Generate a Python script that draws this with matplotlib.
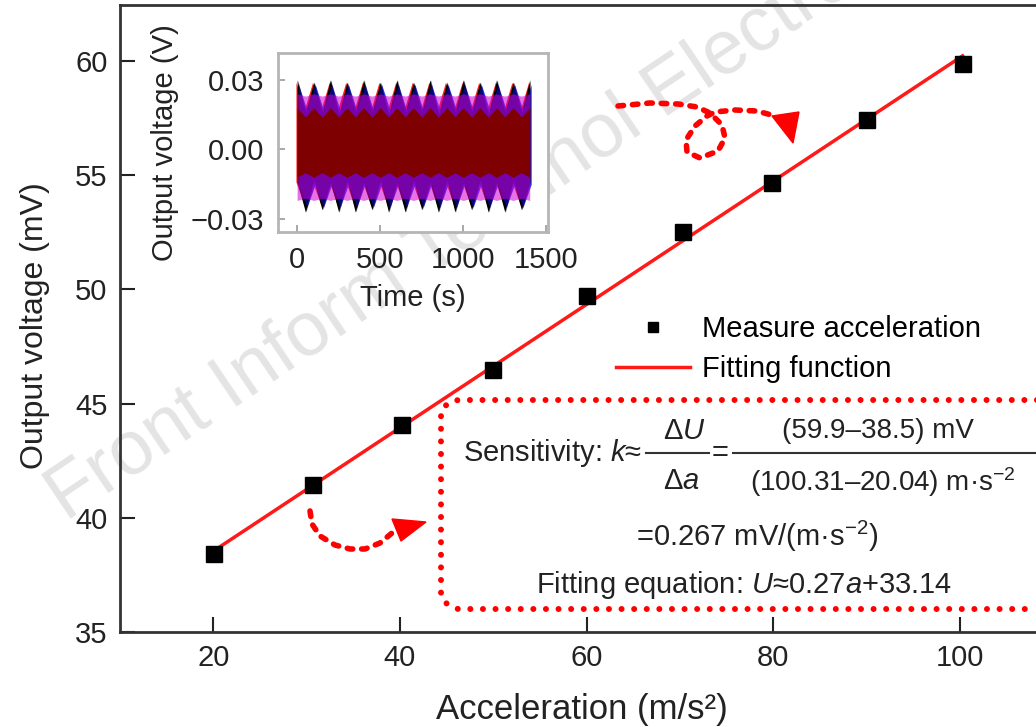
import matplotlib
matplotlib.use('Agg')
import matplotlib.pyplot as plt
from matplotlib.lines import Line2D
from matplotlib.patches import Polygon

plt.rcParams['font.family'] = ['Liberation Sans', 'DejaVu Sans']
plt.rcParams['mathtext.fontset'] = 'custom'
plt.rcParams['mathtext.rm'] = 'Liberation Sans'
plt.rcParams['mathtext.it'] = 'Liberation Sans:italic'

# main data: acceleration (m/s^2) vs output voltage (mV)
accel = [20.04, 30.7, 40.2, 50.0, 60.0, 70.3, 79.9, 90.1, 100.31]
volt = [38.4, 41.45, 44.05, 46.45, 49.7, 52.5, 54.65, 57.4, 59.85]
fit_slope, fit_icpt = 0.27, 33.14
fit_x = [20.04, 100.31]

x_ticks = [20, 40, 60, 80, 100]
y_ticks = [35, 40, 45, 50, 55, 60]

# inset: envelope of the time signal (V), sampled every 50 s
env_t = [0, 50, 100, 150, 200, 250, 300, 350, 400, 450, 500, 550, 600, 650, 700,
         750, 800, 850, 900, 950, 1000, 1050, 1100, 1150, 1200, 1250, 1300, 1350, 1400]
black_hi = [0.030, 0.016, 0.029, 0.016, 0.030, 0.015, 0.029, 0.016, 0.030, 0.016,
            0.029, 0.015, 0.030, 0.016, 0.029, 0.016, 0.030, 0.015, 0.029, 0.016,
            0.030, 0.016, 0.029, 0.015, 0.030, 0.016, 0.029, 0.016, 0.030]
black_lo = [-0.014, -0.027, -0.013, -0.026, -0.014, -0.027, -0.013, -0.027, -0.014, -0.026,
            -0.013, -0.027, -0.014, -0.027, -0.013, -0.026, -0.014, -0.027, -0.013, -0.027,
            -0.014, -0.026, -0.013, -0.027, -0.014, -0.027, -0.013, -0.026, -0.014]
blue_hi = [0.028, 0.017, 0.028, 0.017, 0.028, 0.017, 0.028, 0.017, 0.028, 0.017,
           0.028, 0.017, 0.028, 0.017, 0.028, 0.017, 0.028, 0.017, 0.028, 0.017,
           0.028, 0.017, 0.028, 0.017, 0.028, 0.017, 0.028, 0.017, 0.028]
blue_lo = [-0.015, -0.025, -0.015, -0.025, -0.015, -0.025, -0.015, -0.025, -0.015, -0.025,
           -0.015, -0.025, -0.015, -0.025, -0.015, -0.025, -0.015, -0.025, -0.015, -0.025,
           -0.015, -0.025, -0.015, -0.025, -0.015, -0.025, -0.015, -0.025, -0.015]
red_hi = [0.029, 0.017, 0.029, 0.017, 0.029, 0.017, 0.029, 0.017, 0.029, 0.017,
          0.029, 0.017, 0.029, 0.017, 0.029, 0.017, 0.029, 0.017, 0.029, 0.017,
          0.029, 0.017, 0.029, 0.017, 0.029, 0.017, 0.029, 0.017, 0.029]
red_lo = [-0.014, -0.024, -0.014, -0.024, -0.014, -0.024, -0.014, -0.024, -0.014, -0.024,
          -0.014, -0.024, -0.014, -0.024, -0.014, -0.024, -0.014, -0.024, -0.014, -0.024,
          -0.014, -0.024, -0.014, -0.024, -0.014, -0.024, -0.014, -0.024, -0.014]
magenta_hi = [0.024, 0.023, 0.024, 0.023, 0.024, 0.023, 0.024, 0.023, 0.024, 0.023,
              0.024, 0.023, 0.024, 0.023, 0.024, 0.023, 0.024, 0.023, 0.024, 0.023,
              0.024, 0.023, 0.024, 0.023, 0.024, 0.023, 0.024, 0.023, 0.024]
magenta_lo = [-0.022, -0.021, -0.022, -0.021, -0.022, -0.021, -0.022, -0.021, -0.022, -0.021,
              -0.022, -0.021, -0.022, -0.021, -0.022, -0.021, -0.022, -0.021, -0.022, -0.021,
              -0.022, -0.021, -0.022, -0.021, -0.022, -0.021, -0.022, -0.021, -0.022]
dred_hi = [0.018, 0.014, 0.018, 0.014, 0.018, 0.014, 0.018, 0.014, 0.018, 0.014,
           0.018, 0.014, 0.018, 0.014, 0.018, 0.014, 0.018, 0.014, 0.018, 0.014,
           0.018, 0.014, 0.018, 0.014, 0.018, 0.014, 0.018, 0.014, 0.018]
dred_lo = [-0.012, -0.010, -0.012, -0.010, -0.012, -0.010, -0.012, -0.010, -0.012, -0.010,
           -0.012, -0.010, -0.012, -0.010, -0.012, -0.010, -0.012, -0.010, -0.012, -0.010,
           -0.012, -0.010, -0.012, -0.010, -0.012, -0.010, -0.012, -0.010, -0.012]
inset_xticks = [0, 500, 1000, 1500]
inset_yticks = [-0.03, 0.00, 0.03]

W, H = 1036, 727
fig = plt.figure(figsize=(W / 100, H / 100), dpi=100)

def fx(px):
    return px / W

def fy(py):
    return 1 - py / H

# ---- main axes
ax = fig.add_axes([fx(120), fy(632), fx(1053) - fx(120), fy(5) - fy(632)])
ax.set_facecolor('none')
ax.set_xlim(10, 110)
ax.set_ylim(35, 62.45)
fit_y = [fit_slope * v + fit_icpt for v in fit_x]
ax.plot(fit_x, fit_y, color='#ff1a1a', lw=2.5, zorder=3)
ax.plot(accel, volt, ls='none', marker='s', ms=11, color='black', zorder=4)
ax.set_xticks(x_ticks)
ax.set_yticks(y_ticks)
ax.tick_params(direction='in', length=11, width=1.5, labelsize=21, pad=9,
               colors='#222222', top=False, right=False)
for s in ax.spines.values():
    s.set_linewidth(2)
    s.set_color('#333333')
fig.text(fx(35), fy(326), 'Output voltage (mV)', rotation=90, fontsize=23,
         ha='center', va='center', color='#222222')
fig.text(fx(582), fy(710), 'Acceleration (m/s²)', fontsize=25,
         ha='center', va='center', color='#222222')

leg_handles = [Line2D([], [], ls='none', marker='s', ms=7, color='black'),
               Line2D([], [], color='#ff1a1a', lw=2.5)]
ax.legend(leg_handles, ['Measure acceleration', 'Fitting function'],
          loc='upper left', bbox_to_anchor=(fx(616), fy(315)),
          bbox_transform=fig.transFigure, frameon=False, fontsize=21,
          handlelength=2.53, handletextpad=0.41, labelspacing=0.42,
          borderpad=0, borderaxespad=0)

# ---- inset
ins = fig.add_axes([fx(278), fy(232), fx(548) - fx(278), fy(53) - fy(232)])
ins.set_xlim(-115, 1510)
ins.set_ylim(-0.0356, 0.0416)
ins.fill_between([t - 7 for t in env_t], red_lo, red_hi, color='#ff2020', lw=0)
ins.fill_between(env_t, black_lo, black_hi, color='black', lw=0)
ins.fill_between([t + 9 for t in env_t], blue_lo, blue_hi, color='#1010ff', lw=0, alpha=0.85)
ins.fill_between([t + 4 for t in env_t], black_lo, black_hi, color='black', lw=0, alpha=0.45)
ins.fill_between(env_t, magenta_lo, magenta_hi, color='#d000d0', lw=0, alpha=0.55)
ins.fill_between(env_t, dred_lo, dred_hi, color='#7f0000', lw=0)
ins.set_xticks(inset_xticks)
ins.set_yticks(inset_yticks)
ins.set_yticklabels(['\u22120.03', '0.00', '0.03'])
ins.tick_params(direction='in', length=5, width=1.2, labelsize=21, pad=10,
                colors='#999999', labelcolor='#222222')
for s in ins.spines.values():
    s.set_linewidth(2)
    s.set_color('#b5b5b5')
ins.set_xlabel('Time (s)', fontsize=21, color='#222222', labelpad=7)
ins.set_ylabel('Output voltage (V)', fontsize=21, color='#222222', labelpad=8)

# ---- watermark
fig.text(fx(66), fy(522), 'Front Inform Technol Electron Eng', fontsize=55,
         rotation=34, rotation_mode='anchor', ha='left', va='baseline',
         color='#e4e4e4', zorder=-1)

# ---- annotation overlay (pixel coords)
ov = fig.add_axes([0, 0, 1, 1])
ov.set_xlim(0, W)
ov.set_ylim(H, 0)
ov.axis('off')
red = '#ff0000'

box_x = [1060, 458, 447, 441, 441, 447, 458, 1060]
box_y = [400, 400, 404, 412, 596, 604, 609, 609]
ov.plot(box_x, box_y, color=red, lw=4.3, ls=(0, (0.01, 2.1)), dash_capstyle='round')

curl_x = [618, 650, 678, 697, 710, 722, 725, 718, 700, 687, 686, 695, 707, 715, 735, 757, 775]
curl_y = [106, 103, 104, 107, 113, 125, 138, 151, 158, 152, 140, 126, 116, 112, 110, 111, 116]
ov.plot(curl_x, curl_y, color=red, lw=4, ls=(0, (1.0, 1.6)), dash_capstyle='round')
ov.add_patch(Polygon([(772, 116), (799, 112), (793, 143)], closed=True, color=red))

hook_x = [310, 312, 320, 335, 350, 365, 380, 392]
hook_y = [511, 524, 536, 545, 549, 549, 543, 533]
ov.plot(hook_x, hook_y, color=red, lw=4, ls=(0, (1.0, 1.6)), dash_capstyle='round')
ov.add_patch(Polygon([(392, 519), (401, 541), (426, 522)], closed=True, color=red))

tc = '#222222'
ov.text(463, 453, 'Sensitivity: $k$\u2248', fontsize=21, ha='left', va='center', color=tc)
ov.text(684, 431, '\u0394$U$', fontsize=21, ha='center', va='center', color=tc)
ov.text(681, 481, '\u0394$a$', fontsize=21, ha='center', va='center', color=tc)
ov.plot([646, 709], [453, 453], color='#333333', lw=1.5)
ov.text(720, 453, '=', fontsize=21, ha='center', va='center', color=tc)
ov.plot([733, 1045], [453, 453], color='#333333', lw=1.5)
ov.text(878, 431, '(59.9\u201338.5) mV', fontsize=20, ha='center', va='center', color=tc)
ov.text(883, 482, '(100.31\u201320.04) m\u00b7s$^{\u22122}$', fontsize=20,
        ha='center', va='center', color=tc)
ov.text(757, 536, '=0.267 mV/(m\u00b7s$^{\u22122}$)', fontsize=21,
        ha='center', va='center', color=tc)
ov.text(744, 585, 'Fitting equation: $U$\u22480.27$a$+33.14', fontsize=21,
        ha='center', va='center', color=tc)

fig.savefig('out.png', dpi=100)
